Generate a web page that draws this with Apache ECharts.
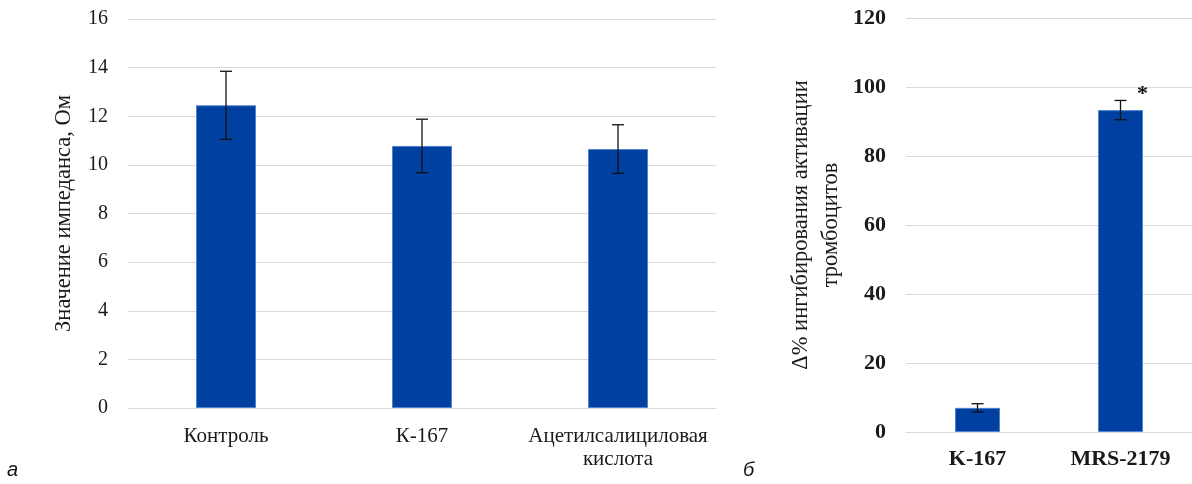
<!DOCTYPE html>
<html>
<head>
<meta charset="utf-8">
<script src="https://cdn.jsdelivr.net/npm/echarts@6/dist/echarts.min.js"></script>
<style>html,body{margin:0;padding:0;background:#fff}#c{width:1192px;height:484px}</style>
</head>
<body>
<div id="c"></div>
<script>
const leftCats = ['Контроль', 'К-167', 'Ацетилсалициловая\nкислота'];
const leftMeans = [12.45, 10.78, 10.65];
const leftErr = [1.4, 1.1, 1.0];
const leftTicks = [0, 2, 4, 6, 8, 10, 12, 14, 16];

const rightCats = ['K-167', 'MRS-2179'];
const rightMeans = [7.0, 93.3];
const rightErr = [1.2, 2.8];
const rightMarks = ['', '*'];
const rightTicks = [0, 20, 40, 60, 80, 100, 120];

const BAR = '#0040A0';
const serif = '"Liberation Serif", "DejaVu Serif", serif';

function errData(means, errs, marks) {
  return means.map((m, i) => [i, m - errs[i], m + errs[i], marks ? marks[i] : '']);
}

function errRender(params, api) {
  const i = api.value(0);
  const pHi = api.coord([i, api.value(2)]);
  const pLo = api.coord([i, api.value(1)]);
  const hw = 6;
  const st = { stroke: '#111', lineWidth: 1.3 };
  const children = [
    { type: 'line', shape: { x1: pHi[0], y1: pHi[1], x2: pLo[0], y2: pLo[1] }, style: st },
    { type: 'line', shape: { x1: pHi[0] - hw, y1: pHi[1], x2: pHi[0] + hw, y2: pHi[1] }, style: st },
    { type: 'line', shape: { x1: pLo[0] - hw, y1: pLo[1], x2: pLo[0] + hw, y2: pLo[1] }, style: st }
  ];
  const mark = api.value(3);
  if (mark) {
    children.push({ type: 'text', x: pHi[0] + 22, y: pHi[1] + 5,
      style: { text: mark, font: 'bold 22px ' + serif, fill: '#111', align: 'center', verticalAlign: 'bottom' } });
  }
  return { type: 'group', children };
}

const chart = echarts.init(document.getElementById('c'), null, { renderer: 'canvas' });
chart.setOption({
  animation: false,
  backgroundColor: '#fff',
  grid: [
    { left: 128, top: 19, width: 588, height: 389 },
    { left: 906, top: 18, width: 291, height: 414 }
  ],
  xAxis: [
    { type: 'category', gridIndex: 0, data: leftCats,
      axisLine: { show: true, lineStyle: { color: '#d9d9d9' } }, axisTick: { show: false },
      axisLabel: { fontFamily: serif, fontSize: 21, color: '#1a1a1a', margin: 17, lineHeight: 23, interval: 0 } },
    { type: 'category', gridIndex: 1, data: rightCats,
      axisLine: { show: true, lineStyle: { color: '#d9d9d9' } }, axisTick: { show: false },
      axisLabel: { fontFamily: serif, fontSize: 22, fontWeight: 'bold', color: '#1a1a1a', margin: 16 } }
  ],
  yAxis: [
    { type: 'value', gridIndex: 0, min: leftTicks[0], max: leftTicks[leftTicks.length - 1], interval: 2,
      name: 'Значение импеданса, Ом', nameLocation: 'middle', nameGap: 52,
      nameTextStyle: { fontFamily: serif, fontSize: 22.5, color: '#1a1a1a' },
      axisLine: { show: false }, axisTick: { show: false },
      splitLine: { lineStyle: { color: '#d9d9d9', width: 1 } },
      axisLabel: { fontFamily: serif, fontSize: 20, color: '#1a1a1a', margin: 20 } },
    { type: 'value', gridIndex: 1, min: rightTicks[0], max: rightTicks[rightTicks.length - 1], interval: 20,
      name: 'Δ% ингибирования активации\nтромбоцитов', nameLocation: 'middle', nameGap: 60,
      nameTextStyle: { fontFamily: serif, fontSize: 22.5, color: '#1a1a1a', lineHeight: 30 },
      axisLine: { show: false }, axisTick: { show: false },
      splitLine: { lineStyle: { color: '#d9d9d9', width: 1 } },
      axisLabel: { fontFamily: serif, fontSize: 22, fontWeight: 'bold', color: '#1a1a1a', margin: 20 } }
  ],
  series: [
    { type: 'bar', xAxisIndex: 0, yAxisIndex: 0, data: leftMeans, barWidth: 60,
      itemStyle: { color: BAR, borderColor: '#4f82cf', borderWidth: 1 } },
    { type: 'custom', xAxisIndex: 0, yAxisIndex: 0, data: errData(leftMeans, leftErr), renderItem: errRender, z: 5,
      encode: { x: 0, y: [1, 2] } },
    { type: 'bar', xAxisIndex: 1, yAxisIndex: 1, data: rightMeans, barWidth: 45,
      itemStyle: { color: BAR, borderColor: '#4f82cf', borderWidth: 1 } },
    { type: 'custom', xAxisIndex: 1, yAxisIndex: 1, data: errData(rightMeans, rightErr, rightMarks), renderItem: errRender, z: 5,
      encode: { x: 0, y: [1, 2] } }
  ],
  graphic: [
    { type: 'text', left: 7, top: 460, style: { text: 'а', font: 'italic 20px "Liberation Sans", Arial, sans-serif', fill: '#111' } },
    { type: 'text', left: 743, top: 460, style: { text: 'б', font: 'italic 20px "Liberation Sans", Arial, sans-serif', fill: '#111' } }
  ]
});
</script>
</body>
</html>
